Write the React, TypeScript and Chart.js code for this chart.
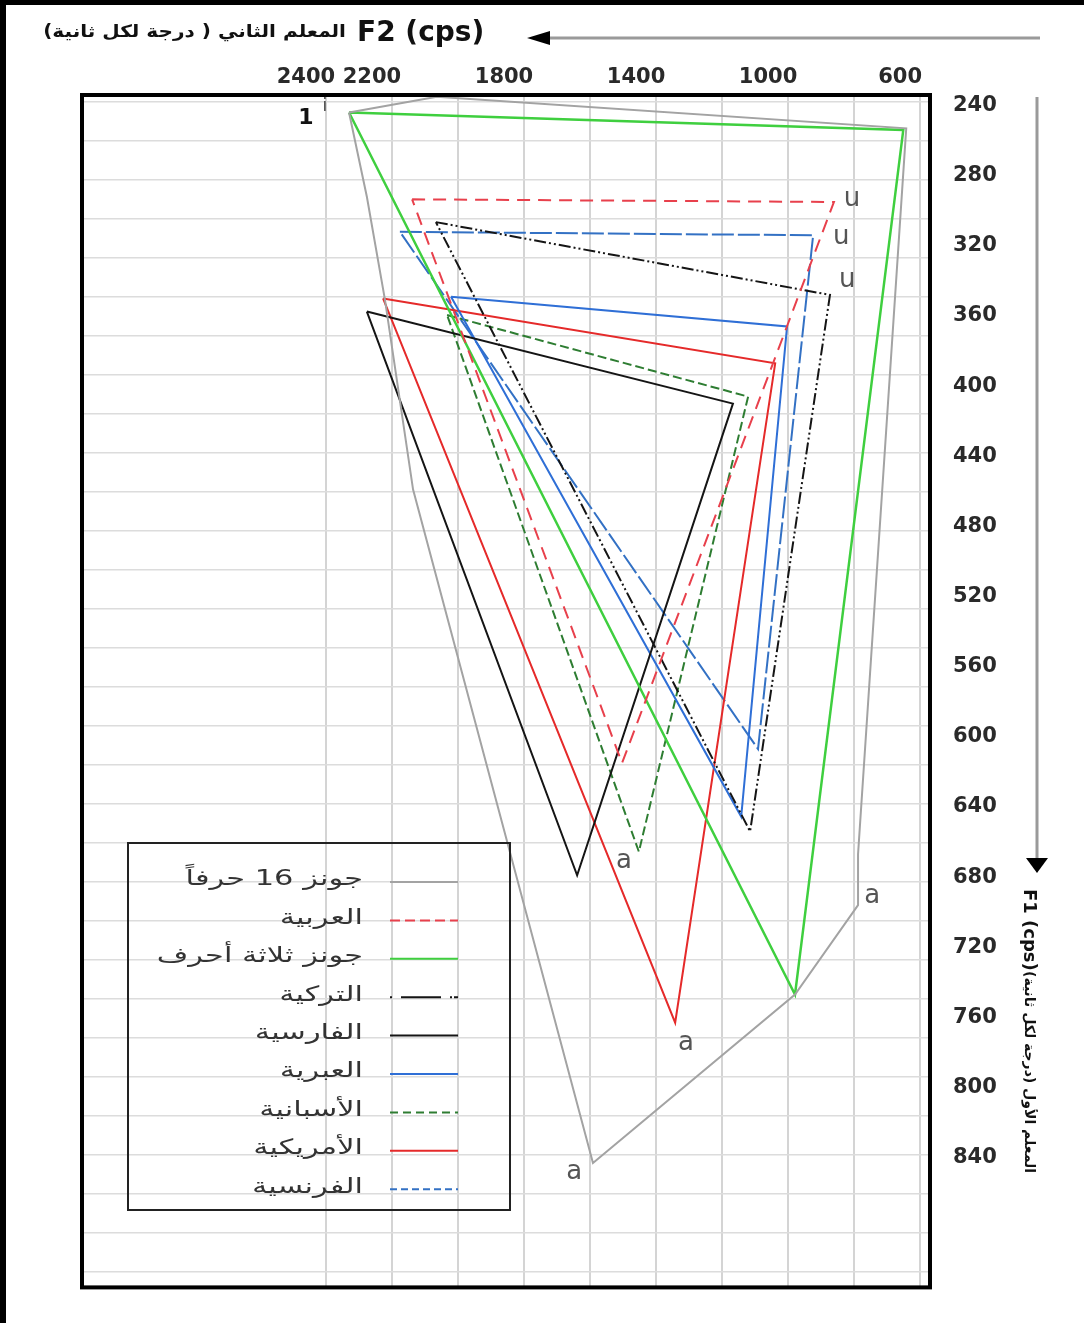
import { useEffect, useRef } from 'react';
import { Chart, registerables } from 'chart.js';

Chart.register(...registerables);

// ---------- axes ----------
const X_TICKS = [600, 800, 1000, 1200, 1400, 1600, 1800, 2000, 2200, 2400];
const X_LABELS = [600, 1000, 1400, 1800, 2200, 2400];
const Y_TICKS = [240, 280, 320, 360, 400, 440, 480, 520, 560, 600, 640, 680, 720, 760, 800, 840];

// ---------- vowel polygons: [F2, F1] ----------
const JONES16 = [[2330, 244], [2064, 235], [642, 253], [788, 667], [788, 696], [979, 747], [1591, 843], [2136, 459], [2221, 351], [2276, 292], [2330, 244]];
const ARABIC = [[2139, 293.5], [861, 295], [1503, 615], [2139, 293.5]];
const JONES3 = [[2330, 244], [651, 254], [979, 747], [2330, 244]];
const TURKISH = [[2067, 306.5], [873, 348], [1115, 654], [2067, 306.5]];
const PERSIAN = [[2276, 357.5], [1167, 410], [1639, 679], [2276, 357.5]];
const HEBREW = [[2021, 349], [1003, 366], [1142, 645.5], [2021, 349]];
const SPANISH = [[2033, 359.5], [1121, 406], [1452, 665.5], [2033, 359.5]];
const AMERICAN = [[2227, 350], [1039, 387], [1342, 763], [2227, 350]];
const FRENCH = [[2176, 312], [924, 314], [1091, 607], [2176, 312]];

const NAMES = ['جونز 16 حرفاً', 'العربية', 'جونز ثلاثة أحرف', 'التركية', 'الفارسية', 'العبرية', 'الأسبانية', 'الأمريكية', 'الفرنسية'];

// vowel symbols placed next to the vertices [text, F2, F1]
const VOWEL_LABELS: [string, number, number][] = [
  ['u', 806, 293.5], ['u', 839, 315], ['u', 821, 339.5],
  ['a', 1497, 671], ['a', 745, 691], ['a', 1309, 775], ['a', 1648, 848.5],
];

const SERIES = [
  { data: JONES16, color: '#a3a3a3', dash: [] as number[], width: 2 },
  { data: ARABIC, color: '#e8404c', dash: [13, 8], width: 2 },
  { data: JONES3, color: '#3fcf3f', dash: [], width: 2.5 },
  { data: TURKISH, color: '#151515', dash: [12, 3, 2, 3, 2, 3], width: 2 },
  { data: PERSIAN, color: '#151515', dash: [], width: 2 },
  { data: HEBREW, color: '#2f6fd6', dash: [], width: 2 },
  { data: SPANISH, color: '#2e7d32', dash: [9, 4], width: 2 },
  { data: AMERICAN, color: '#e52a2a', dash: [], width: 2 },
  { data: FRENCH, color: '#3371c4', dash: [22, 4], width: 2 },
];

const LEGEND_DASH = [[], [10, 5], [], [2, 9, 40, 9, 2], [], [], [8, 5], [], [7, 4]];

const GRID_F1: number[] = [];
for (let v = 237.8; v < 914; v += 22.24) GRID_F1.push(v);

function stretchText(ctx: CanvasRenderingContext2D, text: string, x: number, y: number, sx: number) {
  ctx.save();
  ctx.translate(x, y);
  ctx.scale(sx, 1);
  ctx.fillText(text, 0, 0);
  ctx.restore();
}

const decor = {
  id: 'decor',
  afterDatasetsDraw(chart: any) {
    const { ctx, chartArea: a, scales } = chart;
    const xs = scales.x;
    const ys = scales.y;
    ctx.save();

    // vowel labels
    ctx.fillStyle = '#555';
    ctx.font = '26px "DejaVu Sans"';
    ctx.textAlign = 'center';
    ctx.textBaseline = 'middle';
    VOWEL_LABELS.forEach(([t, f2, f1]) => {
      ctx.fillText(t, xs.getPixelForValue(f2), ys.getPixelForValue(f1));
    });
    // "1 i"
    ctx.fillStyle = '#111';
    ctx.font = 'bold 22px "DejaVu Sans"';
    ctx.fillText('1', xs.getPixelForValue(2461), ys.getPixelForValue(247.4));
    ctx.fillStyle = '#444';
    ctx.font = '17px "DejaVu Sans"';
    ctx.fillText('i', xs.getPixelForValue(2403), ys.getPixelForValue(240.6));

    // frame
    ctx.setLineDash([]);
    ctx.lineWidth = 4;
    ctx.strokeStyle = '#000';
    ctx.strokeRect(a.left, a.top, a.right - a.left, a.bottom - a.top);

    // legend
    const lx = a.left + 46;
    const ly = a.top + 748;
    ctx.lineWidth = 2;
    ctx.strokeStyle = '#222';
    ctx.strokeRect(lx, ly, 382, 367);
    ctx.font = '21px "DejaVu Sans"';
    ctx.fillStyle = '#333';
    ctx.textAlign = 'right';
    ctx.textBaseline = 'middle';
    NAMES.forEach((n, i) => {
      const y = ly + 37 + i * 38.4;
      stretchText(ctx, n, lx + 235, y, 1.45);
      const s = SERIES[i];
      ctx.beginPath();
      ctx.setLineDash(LEGEND_DASH[i]);
      ctx.strokeStyle = s.color;
      ctx.lineWidth = 2;
      ctx.moveTo(lx + 262, y + 2);
      ctx.lineTo(lx + 330, y + 2);
      ctx.stroke();
    });
    ctx.setLineDash([]);

    // top title + arrow
    ctx.fillStyle = '#111';
    ctx.textBaseline = 'middle';
    ctx.textAlign = 'left';
    ctx.font = 'bold 28px "DejaVu Sans"';
    ctx.fillText('F2 (cps)', 357, 34);
    ctx.textAlign = 'right';
    ctx.font = 'bold 17px "DejaVu Sans"';
    stretchText(ctx, 'المعلم الثاني ( درجة لكل ثانية)', 346, 33, 1.18);
    ctx.strokeStyle = '#9a9a9a';
    ctx.lineWidth = 3;
    ctx.beginPath();
    ctx.moveTo(545, 38);
    ctx.lineTo(1040, 38);
    ctx.stroke();
    ctx.fillStyle = '#000';
    ctx.beginPath();
    ctx.moveTo(527, 38);
    ctx.lineTo(550, 31);
    ctx.lineTo(550, 45);
    ctx.closePath();
    ctx.fill();

    // right axis arrow + title
    ctx.strokeStyle = '#9a9a9a';
    ctx.beginPath();
    ctx.moveTo(1037, 97);
    ctx.lineTo(1037, 862);
    ctx.stroke();
    ctx.fillStyle = '#000';
    ctx.beginPath();
    ctx.moveTo(1037, 873);
    ctx.lineTo(1026, 858);
    ctx.lineTo(1048, 858);
    ctx.closePath();
    ctx.fill();

    ctx.translate(1029, 889);
    ctx.rotate(Math.PI / 2);
    ctx.fillStyle = '#111';
    ctx.textAlign = 'left';
    ctx.font = 'bold 18px "DejaVu Sans"';
    ctx.fillText('F1 (cps)', 0, 0);
    ctx.font = 'bold 14px "DejaVu Sans"';
    ctx.fillText('المعلم الأول (درجة لكل ثانية)', 82, 0);

    ctx.restore();
  },
};

export default function App() {
  const ref = useRef<HTMLCanvasElement | null>(null);
  useEffect(() => {
    document.body.style.margin = '0';
    if (!ref.current) return;
    const tickFont = { family: 'DejaVu Sans', weight: 'bold' as const, size: 21 };
    const chart = new Chart(ref.current, {
      type: 'scatter',
      data: {
        datasets: SERIES.map((s, i) => ({
          label: NAMES[i],
          data: s.data.map(([x, y]) => ({ x, y })),
          showLine: true,
          borderColor: s.color,
          backgroundColor: s.color,
          borderDash: s.dash,
          borderWidth: s.width,
          pointRadius: 0,
          tension: 0,
          fill: false,
        })),
      },
      options: {
        responsive: false,
        animation: false,
        devicePixelRatio: 1,
        layout: { padding: { left: 82, top: 55, right: 54, bottom: 33 } },
        plugins: { legend: { display: false }, tooltip: { enabled: false } },
        scales: {
          x: {
            type: 'linear',
            position: 'top',
            min: 570,
            max: 3139,
            reverse: true,
            afterBuildTicks: (s: any) => { s.ticks = X_TICKS.map((v) => ({ value: v })); },
            afterFit: (s: any) => { s.height = 40; },
            grid: { color: '#d4d4d4', lineWidth: 2, drawTicks: false },
            border: { display: false },
            ticks: {
              padding: 5,
              labelOffset: -20,
              autoSkip: false,
              maxRotation: 0,
              color: '#2a2a2a',
              font: tickFont,
              callback: (v: any) => (X_LABELS.includes(Number(v)) ? String(v) : ''),
            },
          },
          y: {
            type: 'linear',
            position: 'right',
            min: 234,
            max: 914,
            reverse: true,
            afterBuildTicks: (s: any) => { s.ticks = Y_TICKS.map((v) => ({ value: v })); },
            afterFit: (s: any) => { s.width = 100; },
            grid: { display: false, drawTicks: false },
            border: { display: false },
            ticks: { padding: 23, autoSkip: false, color: '#2a2a2a', font: tickFont },
          },
          yg: {
            type: 'linear',
            position: 'left',
            min: 234,
            max: 914,
            reverse: true,
            afterBuildTicks: (s: any) => { s.ticks = GRID_F1.map((v) => ({ value: v })); },
            afterFit: (s: any) => { s.width = 0; },
            grid: { color: '#dcdcdc', lineWidth: 1.5, drawTicks: false },
            border: { display: false },
            ticks: { display: false },
          },
        },
      } as any,
      plugins: [decor],
    });
    return () => chart.destroy();
  }, []);

  return (
    <div style={{ position: 'relative', width: 1084, height: 1323, background: '#fff' }}>
      <canvas ref={ref} width={1084} height={1323} style={{ position: 'absolute', left: 0, top: 0 }} />
      <div style={{ position: 'absolute', left: 0, top: 0, width: 1084, height: 1323, borderTop: '5px solid #000', borderLeft: '6px solid #000', boxSizing: 'border-box', pointerEvents: 'none' }} />
    </div>
  );
}
